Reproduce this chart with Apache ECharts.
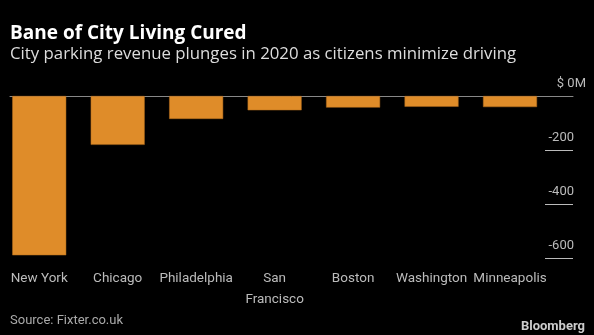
<!DOCTYPE html>
<html>
<head>
<meta charset="utf-8">
<script src="https://cdn.jsdelivr.net/npm/echarts@6/dist/echarts.min.js"></script>
<style>
html,body{margin:0;padding:0;background:#000;}
#c{width:594px;height:335px;}
</style>
</head>
<body>
<div id="c"></div>
<script>
const cities = ['New York', 'Chicago', 'Philadelphia', 'San\nFrancisco', 'Boston', 'Washington', 'Minneapolis'];
const revenueChange = [-590, -181, -85, -53, -43, -40, -41];
const yTicks = [0, -200, -400, -600];

const FONT = 'Roboto';
const TFONT = 'Open Sans';
const chart = echarts.init(document.getElementById('c'), null, {renderer: 'canvas'});
chart.setOption({
  backgroundColor: '#000',
  animation: false,
  textStyle: {fontFamily: FONT},
  title: [
    {
      text: 'Bane of City Living Cured',
      left: 10, top: 23, padding: 0,
      textStyle: {color: '#fff', fontSize: 19, fontWeight: 'bold', fontFamily: TFONT, lineHeight: 22}
    },
    {
      text: 'City parking revenue plunges in 2020 as citizens minimize driving',
      left: 10, top: 44, padding: 0,
      textStyle: {color: '#ddd', fontSize: 16.8, fontWeight: 'normal', fontFamily: TFONT, lineHeight: 20}
    },
    {
      text: 'Source: Fixter.co.uk',
      left: 5, top: 309,
      textStyle: {color: '#aaa', fontSize: 13, fontWeight: 'normal', fontFamily: FONT}
    },
    {
      text: 'Bloomberg',
      right: 4, top: 315,
      textStyle: {color: '#ccc', fontSize: 13, fontWeight: 'bold', fontFamily: FONT}
    }
  ],
  grid: [
    {left: -1.65, width: 550.9, top: 96, height: 162},
    {left: 10, width: 563, top: 96, height: 162}
  ],
  xAxis: [
    {
      type: 'category', gridIndex: 0, data: cities,
      axisLine: {show: false},
      axisTick: {show: true, alignWithLabel: true, length: 6, lineStyle: {color: '#999'}},
      axisLabel: {color: '#bbb', fontSize: 13.5, margin: 10, lineHeight: 21, interval: 0, fontFamily: FONT}
    },
    {
      type: 'category', gridIndex: 1, data: cities,
      axisLine: {show: true, onZero: true, lineStyle: {color: '#888', width: 1}},
      axisTick: {show: false}, axisLabel: {show: false}
    }
  ],
  yAxis: [
    {type: 'value', gridIndex: 0, min: -600, max: 0, interval: 200, show: false, splitLine: {show: false}},
    {
      type: 'value', gridIndex: 1, position: 'right', min: -600, max: 0, interval: 200,
      splitLine: {show: false},
      axisLine: {show: false},
      axisTick: {show: true, inside: true, length: 28, customValues: [-200, -400, -600], lineStyle: {color: '#bbb', width: 1}},
      axisLabel: {
        show: true, inside: false, margin: 13, align: 'right', verticalAlign: 'bottom',
        color: '#bbb', fontSize: 13, fontFamily: FONT,
        formatter: v => v === 0 ? '{z|$ 0M}' : '{n|' + v + '}',
        rich: {
          z: {color: '#bbb', fontSize: 13, fontFamily: FONT, padding: [0, 0, 6, 0]},
          n: {color: '#bbb', fontSize: 13, fontFamily: FONT, padding: [0, 12, 6, 0]}
        }
      }
    }
  ],
  series: [
    {
      type: 'bar', xAxisIndex: 0, yAxisIndex: 0, data: revenueChange,
      barWidth: 54, clip: false,
      itemStyle: {color: '#df8c29', borderColor: '#b06a1c', borderWidth: 0.5}
    }
  ]
});
</script>
</body>
</html>
